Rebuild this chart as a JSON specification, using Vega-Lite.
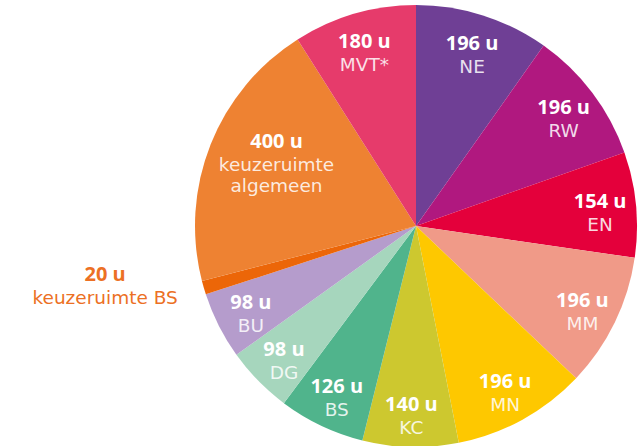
{
  "$schema": "https://vega.github.io/schema/vega-lite/v6.json",
  "width": 446,
  "height": 446,
  "autosize": {"type": "none"},
  "padding": {"left": 193, "top": 3, "right": 0, "bottom": 0},
  "background": "white",
  "config": {"view": {"stroke": null}},
  "data": {
    "values": [
      {"idx": 1, "cat": "NE", "hours": 196, "label": "196 u"},
      {"idx": 2, "cat": "RW", "hours": 196, "label": "196 u"},
      {"idx": 3, "cat": "EN", "hours": 154, "label": "154 u"},
      {"idx": 4, "cat": "MM", "hours": 196, "label": "196 u"},
      {"idx": 5, "cat": "MN", "hours": 196, "label": "196 u"},
      {"idx": 6, "cat": "KC", "hours": 140, "label": "140 u"},
      {"idx": 7, "cat": "BS", "hours": 126, "label": "126 u"},
      {"idx": 8, "cat": "DG", "hours": 98, "label": "98 u"},
      {"idx": 9, "cat": "BU", "hours": 98, "label": "98 u"},
      {"idx": 10, "cat": "keuzeruimte BS", "hours": 20, "label": "20 u"},
      {"idx": 11, "cat": "keuzeruimte algemeen", "hours": 400, "label": "400 u"},
      {"idx": 12, "cat": "MVT*", "hours": 180, "label": "180 u"}
    ]
  },
  "encoding": {
    "theta": {"field": "hours", "type": "quantitative", "stack": true},
    "order": {"field": "idx", "type": "quantitative"},
    "detail": {"field": "cat", "type": "nominal"}
  },
  "layer": [
    {
      "mark": {"type": "arc", "outerRadius": 221},
      "encoding": {
        "color": {
          "field": "cat",
          "type": "nominal",
          "legend": null,
          "scale": {
            "domain": ["NE", "RW", "EN", "MM", "MN", "KC", "BS", "DG", "BU", "keuzeruimte BS", "keuzeruimte algemeen", "MVT*"],
            "range": ["#6f3f95", "#b0187f", "#e4003b", "#f09a88", "#fec800", "#cdc82f", "#50b48c", "#a6d6bd", "#b59ccc", "#ec6608", "#ee8232", "#e63b6b"]
          }
        }
      }
    },
    {
      "mark": {"type": "text", "radius": 185, "dy": -6, "font": "Open Sans", "fontSize": 20, "fontWeight": "bold", "fill": "white"},
      "encoding": {
        "text": {"field": "label", "condition": {"test": "datum.cat === 'keuzeruimte BS' || datum.cat === 'keuzeruimte algemeen'", "value": ""}}
      }
    },
    {
      "mark": {"type": "text", "radius": 185, "dy": 17, "font": "DejaVu Sans", "fontSize": 18.5, "fill": "white", "fillOpacity": 0.85},
      "encoding": {
        "text": {"field": "cat", "condition": {"test": "datum.cat === 'keuzeruimte BS' || datum.cat === 'keuzeruimte algemeen'", "value": ""}}
      }
    },
    {
      "mark": {"type": "text", "radius": 150, "dy": -29, "font": "Open Sans", "fontSize": 20, "fontWeight": "bold", "fill": "white"},
      "encoding": {
        "text": {"field": "label", "condition": {"test": "datum.cat !== 'keuzeruimte algemeen'", "value": ""}}
      }
    },
    {
      "mark": {"type": "text", "radius": 150, "dy": -6, "lineBreak": " ", "lineHeight": 21, "font": "DejaVu Sans", "fontSize": 18.5, "fill": "white", "fillOpacity": 0.85},
      "encoding": {
        "text": {"field": "cat", "condition": {"test": "datum.cat !== 'keuzeruimte algemeen'", "value": ""}}
      }
    },
    {
      "mark": {"type": "text", "radius": 230, "dx": -90, "dy": -15, "align": "center", "font": "Open Sans", "fontSize": 20, "fontWeight": "bold", "fill": "#ec7024"},
      "encoding": {
        "text": {"field": "label", "condition": {"test": "datum.cat !== 'keuzeruimte BS'", "value": ""}}
      }
    },
    {
      "mark": {"type": "text", "radius": 230, "dx": -90, "dy": 8, "align": "center", "font": "DejaVu Sans", "fontSize": 18.5, "fill": "#ec7024"},
      "encoding": {
        "text": {"field": "cat", "condition": {"test": "datum.cat !== 'keuzeruimte BS'", "value": ""}}
      }
    }
  ]
}
